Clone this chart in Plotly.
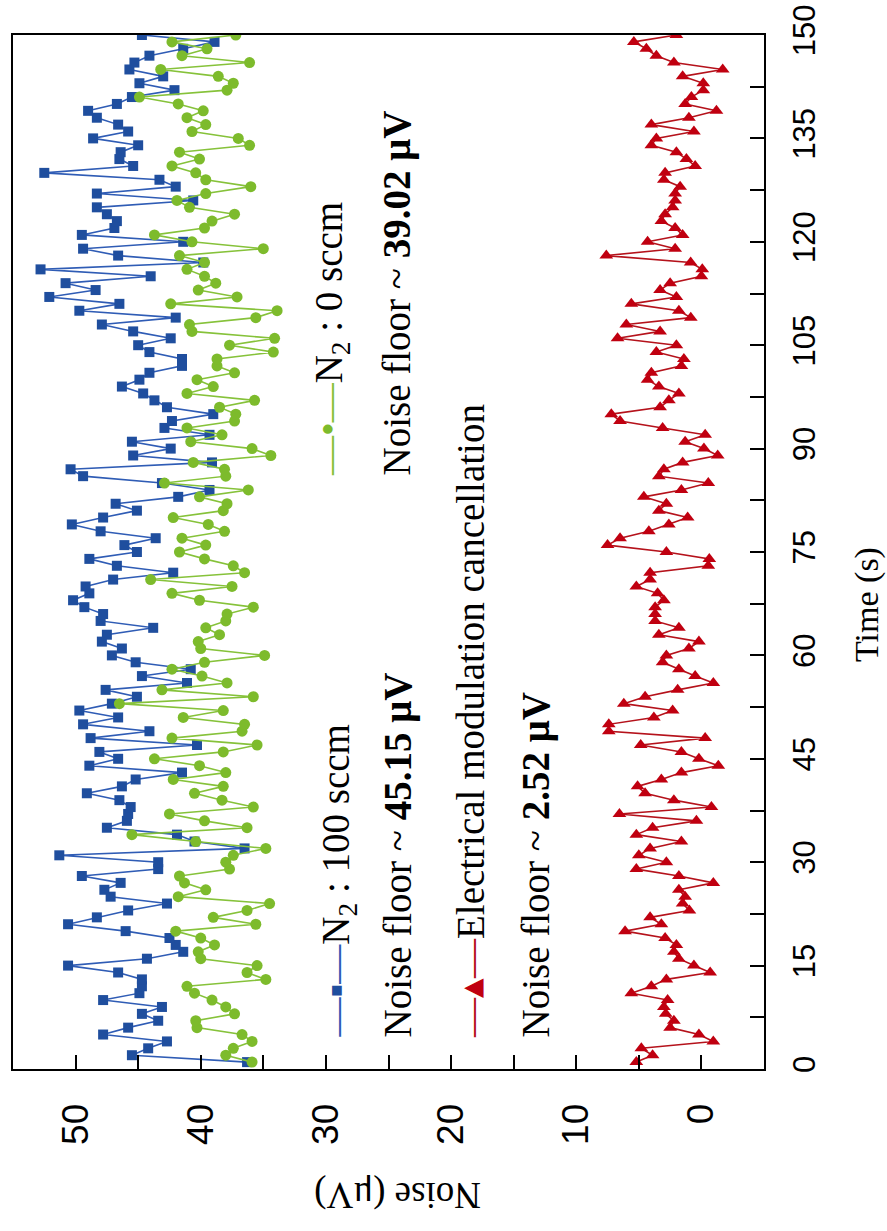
import plotly.graph_objects as go

time_s = list(range(1, 151))

n2_100 = [36.3, 45.5, 44.2, 42.7, 47.8, 45.8, 43.4, 44.7, 43.1, 47.8,
          44.9, 44.7, 44.7, 46.6, 50.6, 44.3, 41.4, 42.0, 42.5, 46.0,
          50.6, 48.3, 45.8, 42.7, 47.2, 47.7, 46.4, 49.5, 43.4, 43.4,
          51.3, 36.5, 40.5, 41.9, 47.5, 45.9, 45.8, 45.6, 46.5, 49.1,
          46.3, 45.2, 41.5, 48.9, 46.6, 48.1, 40.3, 48.8, 44.1, 49.4,
          46.6, 49.7, 47.1, 45.1, 47.6, 41.1, 44.7, 40.8, 45.2, 47.1,
          46.3, 47.9, 47.5, 43.8, 48.0, 47.8, 49.3, 50.2, 48.9, 49.2,
          47.0, 42.2, 46.7, 48.9, 45.1, 46.1, 43.6, 48.0, 50.3, 47.8,
          45.1, 46.8, 41.8, 39.3, 43.1, 49.4, 50.4, 39.1, 45.4, 42.4,
          45.5, 39.3, 42.9, 42.3, 39.0, 42.7, 43.7, 44.6, 46.3, 44.9,
          44.1, 41.5, 41.5, 44.1, 45.0, 42.4, 45.4, 47.9, 42.0, 49.7,
          46.5, 52.1, 48.4, 50.8, 44.0, 52.8, 39.8, 46.6, 49.4, 41.4,
          49.5, 46.9, 46.7, 47.5, 48.3, 40.6, 48.3, 42.0, 43.3, 52.5,
          45.4, 46.5, 46.4, 45.0, 48.6, 45.8, 46.6, 48.3, 49.0, 46.7,
          45.5, 42.1, 44.9, 43.0, 45.7, 45.3, 44.1, 41.4, 38.9, 44.7]

n2_0 = [35.9, 38.0, 37.4, 35.9, 36.7, 40.3, 40.4, 37.3, 38.0, 39.1,
        40.5, 41.1, 34.8, 36.3, 35.5, 40.0, 40.2, 38.9, 40.0, 42.0,
        35.6, 39.0, 36.3, 34.5, 41.8, 39.6, 41.3, 41.7, 37.7, 38.0,
        37.4, 34.8, 40.4, 45.5, 36.3, 39.7, 42.5, 35.8, 38.3, 40.5,
        38.2, 42.2, 38.0, 40.1, 43.7, 38.2, 35.5, 42.3, 36.7, 36.5,
        41.4, 38.2, 46.5, 35.8, 43.1, 37.9, 39.9, 42.3, 39.7, 34.9,
        40.0, 40.2, 38.5, 39.6, 38.0, 37.9, 35.8, 40.1, 42.3, 37.5,
        44.0, 36.5, 37.4, 39.7, 41.7, 39.6, 41.5, 38.1, 39.4, 42.2,
        38.2, 37.9, 40.1, 36.2, 42.9, 38.0, 38.1, 40.6, 34.4, 35.9,
        40.8, 38.3, 41.1, 37.3, 37.2, 38.5, 35.7, 41.1, 39.0, 40.3,
        37.3, 38.7, 38.7, 34.2, 37.7, 34.1, 40.7, 40.9, 35.6, 33.9,
        42.4, 37.1, 40.2, 38.8, 39.7, 41.1, 39.7, 41.7, 35.0, 40.7,
        43.7, 39.7, 39.1, 37.3, 40.9, 41.9, 39.6, 36.0, 39.6, 40.4,
        42.3, 40.1, 41.7, 36.1, 37.0, 40.7, 39.6, 41.1, 39.8, 41.8,
        44.9, 37.9, 37.4, 38.6, 43.2, 36.1, 41.5, 39.5, 42.3, 37.2]

emc = [5.2, 3.9, 4.8, -0.95, 0.2, 2.5, 2.2, 2.85, 3.0, 2.7,
       5.6, 4.0, 2.8, -0.7, 0.6, 1.8, 2.2, 2.0, 2.9, 6.1,
       3.2, 4.1, 0.96, 1.5, 1.3, 1.8, -0.95, 1.8, 5.2, 2.8,
       5.0, 4.1, 1.6, 5.2, 3.9, 0.4, 6.55, -0.8, 2.2, 4.5,
       5.1, 3.2, 1.6, -1.35, 0.2, 1.6, 4.85, -0.3, 7.4, 7.4,
       3.8, 2.3, 6.2, 4.5, 1.9, -0.95, 0.5, 1.8, 3.1, 2.8,
       1.0, 0.2, 3.4, 1.8, 3.7, 3.7, 3.7, 3.0, 3.5, 5.2,
       4.1, 4.1, -0.55, -0.63, 2.8, 7.5, 6.5, 4.2, 2.6, 1.1,
       3.4, 2.8, 4.6, 1.6, -0.55, 3.4, 3.0, 1.5, -1.3, -0.2,
       1.3, -0.3, 3.1, 6.5, 7.2, 3.3, 2.6, 1.8, 3.4, 4.3,
       4.0, 1.6, 1.4, 3.6, 2.0, 6.7, 3.3, 6.0, 0.85, 1.8,
       5.6, 2.0, 3.3, 2.5, 0.0, -0.07, 0.86, 7.6, 2.1, 4.3,
       1.5, 2.1, 3.2, 2.9, 2.3, 2.1, 2.1, 1.7, 3.0, 2.9,
       0.5, 1.2, 2.0, 4.0, 3.6, 0.6, 4.0, 1.0, -1.2, 1.3,
       0.8, -0.15, -0.15, 1.5, -1.7, 2.2, 3.6, 4.4, 5.4, 2.0]

noise_ticks = [0, 10, 20, 30, 40, 50]
time_ticks = [0, 15, 30, 45, 60, 75, 90, 105, 120, 135, 150]

BLUE, BLUE_L = "#1f4e9e", "#2f5cb5"
GREEN, GREEN_L = "#7dbb2c", "#86c23a"
RED, RED_L = "#c00010", "#b5121b"

fig = go.Figure()
fig.add_trace(go.Scatter(x=n2_100, y=time_s, mode="lines+markers",
                         line=dict(color=BLUE_L, width=1.6),
                         marker=dict(symbol="square", size=10, color=BLUE)))
fig.add_trace(go.Scatter(x=n2_0, y=time_s, mode="lines+markers",
                         line=dict(color=GREEN_L, width=1.6),
                         marker=dict(symbol="circle", size=11, color=GREEN)))
fig.add_trace(go.Scatter(x=emc, y=time_s, mode="lines+markers",
                         line=dict(color=RED_L, width=1.6),
                         marker=dict(symbol="triangle-up", size=12, color=RED)))

W, H = 887, 1231
L, R, T, B = 13, 764, 35, 1069


def px(xp):
    return (xp - L) / (R - L)


def py(yp):
    return (B - yp) / (B - T)


serif = "Liberation Serif, Times New Roman, serif"
ann = []
texts = [
    (338, 1040, f"<span style='color:{BLUE_L}'>—</span><span style='color:{BLUE}'>▪</span><span style='color:{BLUE_L}'>—</span>N<sub>2</sub> : 100 sccm"),
    (397, 1040, "Noise floor ~ <b>45.15 μV</b>"),
    (470, 1040, f"<span style='color:{RED_L}'>—</span><span style='color:{RED}'>▴</span><span style='color:{RED_L}'>—</span>Electrical modulation cancellation"),
    (535, 1040, "Noise floor ~ <b>2.52 μV</b>"),
    (332, 478, f"<span style='color:{GREEN_L}'>—</span><span style='color:{GREEN}'>•</span><span style='color:{GREEN_L}'>—</span>N<sub>2</sub> : 0 sccm"),
    (397, 478, "Noise floor ~ <b>39.02 μV</b>"),
]
for xp, yp, t in texts:
    ann.append(dict(x=px(xp), y=py(yp), xref="paper", yref="paper", text=t,
                    textangle=-90, showarrow=False, xanchor="center", yanchor="bottom",
                    font=dict(family=serif, size=39, color="black")))
ann.append(dict(x=px(867), y=py(605), xref="paper", yref="paper", text="Time (s)",
                textangle=-90, showarrow=False, xanchor="center", yanchor="middle",
                font=dict(family=serif, size=34, color="black")))
ann.append(dict(x=px(398), y=py(1195), xref="paper", yref="paper", text="Noise (μV)",
                textangle=180, showarrow=False, xanchor="center", yanchor="middle",
                font=dict(family=serif, size=37, color="black")))

fig.update_layout(
    width=W, height=H,
    margin=dict(l=L, r=W - R, t=T, b=H - B, autoexpand=False),
    paper_bgcolor="white", plot_bgcolor="white",
    showlegend=False,
    annotations=ann,
    xaxis=dict(range=[55, -5], tickvals=noise_ticks, ticktext=[str(v) for v in noise_ticks],
               ticks="inside", ticklen=14, tickwidth=2, tickcolor="black",
               minor=dict(dtick=5, tick0=0, ticks="inside", ticklen=14, tickwidth=2, tickcolor="black"),
               tickangle=-90, showgrid=False, zeroline=False, automargin=False,
               showline=True, linewidth=2, linecolor="black", mirror=True,
               ticklabelstandoff=18,
               tickfont=dict(family="Liberation Sans, Arial", size=37, color="black")),
    yaxis=dict(range=[0, 150], side="right", tickvals=time_ticks, ticktext=[str(v) for v in time_ticks],
               ticks="inside", ticklen=14, tickwidth=2, tickcolor="black",
               minor=dict(dtick=7.5, tick0=0, ticks="inside", ticklen=14, tickwidth=2, tickcolor="black"),
               tickangle=-90, showgrid=False, zeroline=False, automargin=False,
               showline=True, linewidth=2, linecolor="black", mirror=True,
               ticklabelstandoff=12,
               tickfont=dict(family="Liberation Sans, Arial", size=31, color="black")),
)

fig.write_html("out.html", config={"displayModeBar": False},
               post_script="document.body.style.margin='0';document.body.style.overflow='hidden';")
